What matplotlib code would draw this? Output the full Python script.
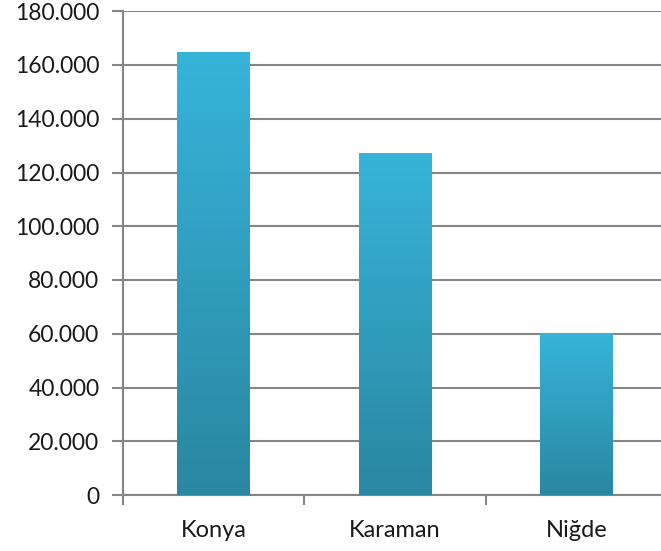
import matplotlib
matplotlib.use("Agg")
import matplotlib.pyplot as plt
import numpy as np
from matplotlib.ticker import FuncFormatter, FixedLocator
from matplotlib.colors import LinearSegmentedColormap

categories = ["Konya", "Karaman", "Niğde"]
values = [164500, 127200, 60100]
yticks = list(range(0, 180001, 20000))

plt.rcParams['font.family'] = ['Lato', 'DejaVu Sans']

fig = plt.figure(figsize=(6.61, 5.51), dpi=100)
ax = fig.add_axes([123/661, 1-495/551, 544/661, (495-11.25)/551])

x = np.arange(len(categories))
bars = ax.bar(x, values, width=0.40, color='none', edgecolor='none', zorder=3)

cmap = LinearSegmentedColormap.from_list("g", ["#2A87A1", "#37B4DA"])
grad = np.linspace(0, 1, 256).reshape(-1, 1)
for b in bars:
    x0, w, h = b.get_x(), b.get_width(), b.get_height()
    ax.imshow(grad, cmap=cmap, origin='lower', aspect='auto',
              extent=[x0, x0 + w, 0, h], zorder=3)

ax.set_xlim(-0.5, len(categories) - 0.5)
ax.set_ylim(0, 180000)
ax.set_yticks(yticks)
ax.yaxis.set_major_formatter(FuncFormatter(lambda v, p: f"{int(v):,}".replace(",", ".")))
ax.grid(axis='y', color='#858585', linewidth=1.5, zorder=1)
ax.set_axisbelow(True)

ax.xaxis.set_major_locator(FixedLocator(np.arange(-0.5, len(categories), 1.0)))
ax.xaxis.set_minor_locator(FixedLocator(x))
ax.set_xticklabels([])
ax.set_xticklabels(categories, minor=True)
ax.tick_params(axis='x', which='minor', length=0, pad=18, labelsize=17, labelcolor='#1a1a1a')
ax.tick_params(axis='x', which='major', length=7, width=1.5, color='#858585', direction='out')
ax.tick_params(axis='y', length=8, width=1.5, color='#858585', direction='out',
               labelsize=16.5, labelcolor='#1a1a1a', pad=9)

for s in ['top', 'right']:
    ax.spines[s].set_visible(False)
for s in ['left', 'bottom']:
    ax.spines[s].set_color('#858585')
    ax.spines[s].set_linewidth(1.5)

fig.savefig("out.png", dpi=100)
